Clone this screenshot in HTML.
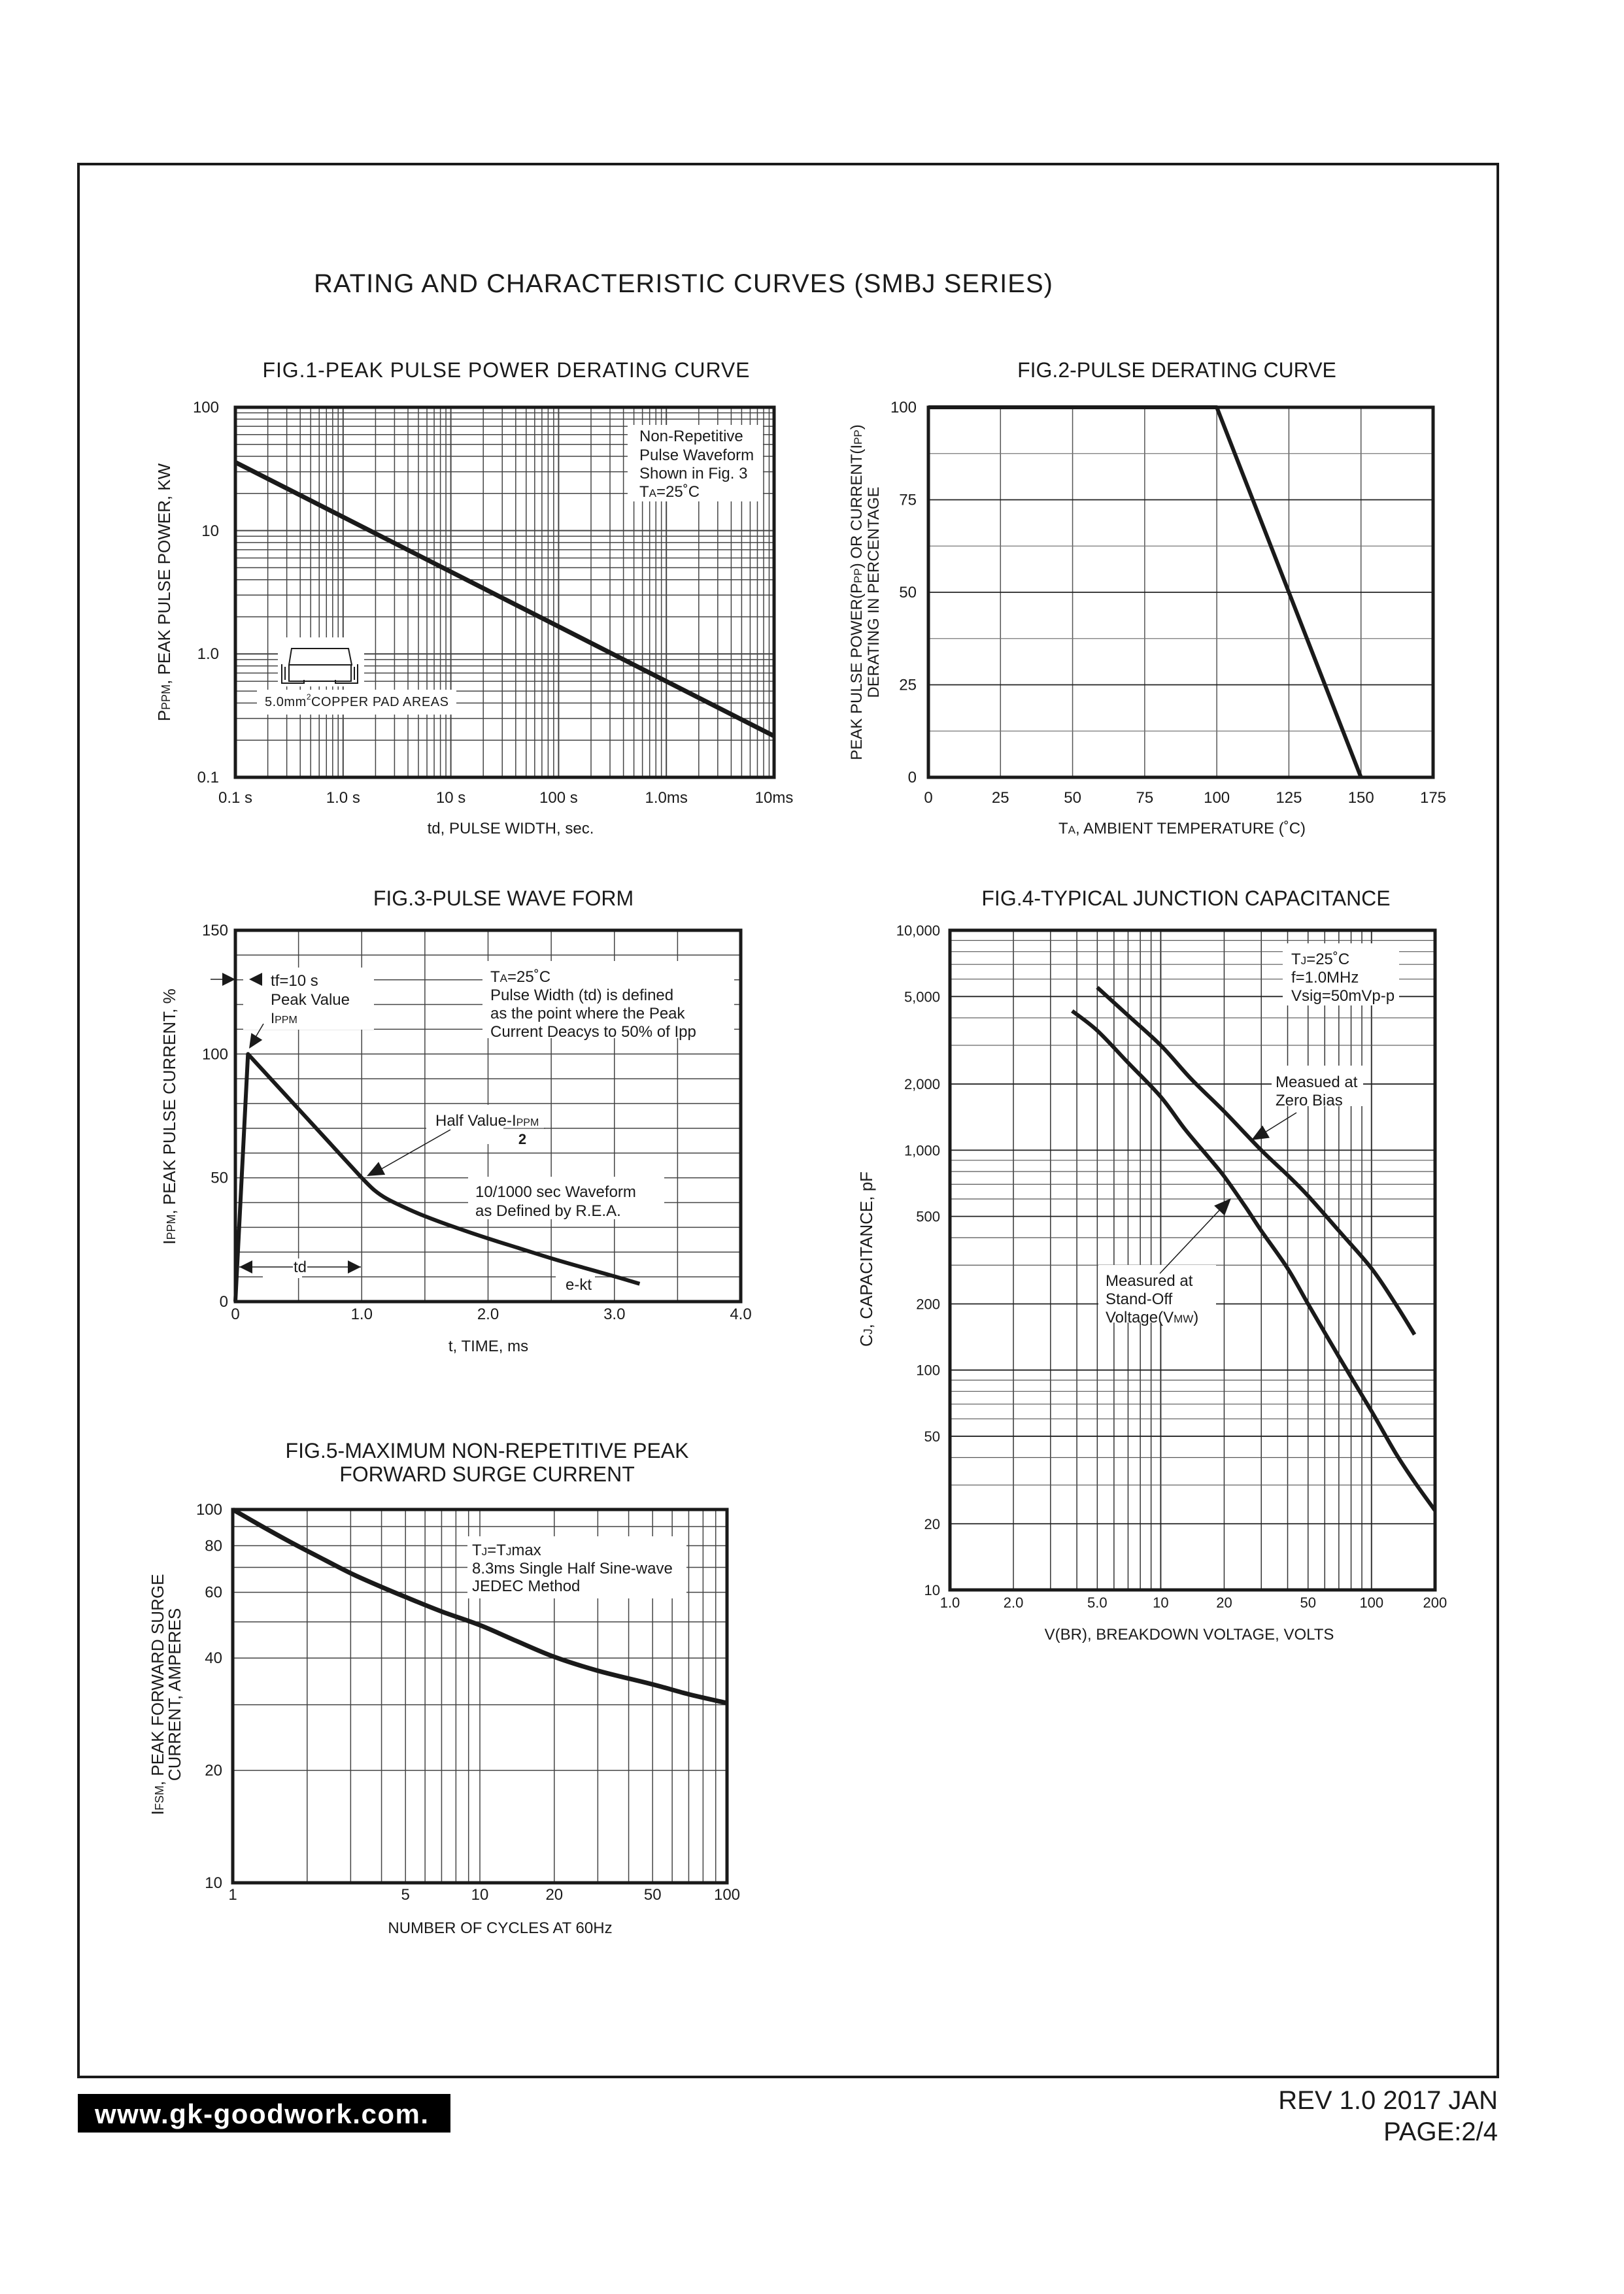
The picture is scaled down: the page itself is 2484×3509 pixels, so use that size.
<!DOCTYPE html>
<html><head><meta charset="utf-8">
<style>
html,body{margin:0;padding:0;background:#fff;}
svg{display:block;}
text{font-family:"Liberation Sans",Arial,sans-serif;fill:#1a1a1a;}
</style></head>
<body>
<svg id="s" width="2484" height="3509" viewBox="0 0 2484 3509" xmlns="http://www.w3.org/2000/svg">
<rect x="0" y="0" width="2484" height="3509" fill="#fff"/>
<rect x="120" y="251" width="2171" height="2926" fill="none" stroke="#1a1a1a" stroke-width="4"/>
<text x="480" y="447" font-size="40" textLength="1130">RATING AND CHARACTERISTIC CURVES (SMBJ SERIES)</text>

<text x="774" y="577" font-size="32" text-anchor="middle" textLength="745">FIG.1-PEAK PULSE POWER DERATING CURVE</text>
<text x="1800" y="577" font-size="32" text-anchor="middle">FIG.2-PULSE DERATING CURVE</text>
<text x="770" y="1385" font-size="32" text-anchor="middle">FIG.3-PULSE WAVE FORM</text>
<text x="1814" y="1385" font-size="32" text-anchor="middle">FIG.4-TYPICAL JUNCTION CAPACITANCE</text>
<text x="745" y="2230" font-size="32" text-anchor="middle">FIG.5-MAXIMUM NON-REPETITIVE PEAK</text>
<text x="745" y="2266" font-size="32" text-anchor="middle">FORWARD SURGE CURRENT</text>

<g id="grid"></g>
<g id="fg"></g>

<!-- footer -->
<rect x="119" y="3203" width="570" height="59" fill="#000"/>
<text x="145" y="3248" font-size="42" font-weight="bold" style="fill:#fff" textLength="510">www.gk-goodwork.com.</text>
<text x="2291" y="3226" font-size="40" text-anchor="end">REV 1.0 2017 JAN</text>
<text x="2291" y="3274" font-size="40" text-anchor="end">PAGE:2/4</text>
</svg>
<script>
var NS="http://www.w3.org/2000/svg";
var G=document.getElementById('grid'),F=document.getElementById('fg');
function el(p,tag,a,txt){var e=document.createElementNS(NS,tag);for(var k in a)e.setAttribute(k,a[k]);if(txt!==undefined)e.textContent=txt;p.appendChild(e);return e;}
function ln(x1,y1,x2,y2,w,c){el(G,'line',{x1:x1,y1:y1,x2:x2,y2:y2,'stroke-width':w||1.5,stroke:c||'#444'});}
function tx(x,y,s,sz,anc,extra){var a={x:x,y:y,'font-size':sz||24};if(anc)a['text-anchor']=anc;for(var k in extra)a[k]=extra[k];return el(F,'text',a,s);}
function rect(x,y,w,h){el(F,'rect',{x:x,y:y,width:w,height:h,fill:'#fff'});}
function frame(x1,y1,x2,y2){el(F,'rect',{x:x1,y:y1,width:x2-x1,height:y2-y1,fill:'none',stroke:'#1a1a1a','stroke-width':5});}
function poly(pts,w){el(F,'polyline',{points:pts.map(function(p){return p[0].toFixed(1)+','+p[1].toFixed(1)}).join(' '),fill:'none',stroke:'#1a1a1a','stroke-width':w||6,'stroke-linejoin':'round'});}
function smooth(P,w){var d='M'+P[0][0].toFixed(1)+','+P[0][1].toFixed(1);
 for(var i=0;i<P.length-1;i++){var p0=P[i-1]||P[i],p1=P[i],p2=P[i+1],p3=P[i+2]||P[i+1];
  var c1x=p1[0]+(p2[0]-p0[0])/6,c1y=p1[1]+(p2[1]-p0[1])/6,c2x=p2[0]-(p3[0]-p1[0])/6,c2y=p2[1]-(p3[1]-p1[1])/6;
  d+=' C'+c1x.toFixed(1)+','+c1y.toFixed(1)+' '+c2x.toFixed(1)+','+c2y.toFixed(1)+' '+p2[0].toFixed(1)+','+p2[1].toFixed(1);}
 el(F,'path',{d:d,fill:'none',stroke:'#1a1a1a','stroke-width':w||6,'stroke-linejoin':'round'});}
function tri(tx_,ty,fx,fy,L,W){var dx=tx_-fx,dy=ty-fy,d=Math.sqrt(dx*dx+dy*dy);dx/=d;dy/=d;L=L||26;W=W||11;var bx=tx_-dx*L,by=ty-dy*L;
 el(F,'polygon',{points:tx_+','+ty+' '+(bx-dy*W)+','+(by+dx*W)+' '+(bx+dy*W)+','+(by-dx*W),fill:'#1a1a1a'});}
function fl(x1,y1,x2,y2,w){el(F,'line',{x1:x1,y1:y1,x2:x2,y2:y2,stroke:'#1a1a1a','stroke-width':w||1.5});}
var L10=Math.log10;

/* FIG1 */
(function(){var X0=360,X1=1184,Y0=623,Y1=1189;
 function x(t){return X0+164.8*(L10(t)+1);} function y(p){return Y1-188.7*(L10(p)+1);}
 for(var d=0.1;d<10000;d*=10)for(var m=1;m<=9;m++){var xx=x(d*m);ln(xx,Y0,xx,Y1,m==1?2:1.5);}
 for(var d=0.1;d<100;d*=10)for(var m=1;m<=9;m++){var yy=y(d*m);ln(X0,yy,X1,yy,m==1?2:1.5);}
 rect(960,650,207,117);
 rect(425,975,132,75);rect(393,1055,305,38);
 poly([[x(0.1),y(35.8)],[x(10000),y(0.216)]],7);
 frame(X0,Y0,X1,Y1);
 [['100',623],['10',812],['1.0',1000],['0.1',1189]].forEach(function(a){tx(335,a[1]+8,a[0],24,'end');});
 var xl=['0.1  s','1.0  s','10  s','100  s','1.0ms','10ms'];
 for(var i=0;i<6;i++)tx(X0+164.8*i,1228,xl[i],24,'middle');
 tx(781,1275,'td, PULSE WIDTH, sec.',24,'middle');
 var t=tx(0,0,'',26,null,{transform:'translate(260,906) rotate(-90)','text-anchor':'middle'});
 t.innerHTML='P<tspan font-size="18">PPM</tspan>, PEAK PULSE POWER, KW';
 tx(978,675,'Non-Repetitive',24);tx(978,704,'Pulse Waveform',24);tx(978,732,'Shown in Fig. 3',24);
 var t2=tx(978,760,'',24);t2.innerHTML='T<tspan font-size="17">A</tspan>=25˚C';
 el(F,'path',{d:'M446,992 L533,992 L538,1017 L442,1017 Z M442,1017 L442,1042 L537,1042 L537,1017 M431,1016 L431,1045 L465,1045 L465,1040 M547,1016 L547,1045 L513,1045 L513,1040 M436,1020 L436,1040 M542,1020 L542,1040',fill:'none',stroke:'#1a1a1a','stroke-width':2});
 var t3=tx(405,1080,'',20,null,{textLength:281});t3.innerHTML='5.0mm<tspan font-size="12" dy="-10">2</tspan><tspan dy="10">COPPER PAD AREAS</tspan>';
})();

/* FIG2 */
(function(){var X0=1420,X1=2192,Y0=623,Y1=1189;var dx=(X1-X0)/7,dy=(Y1-Y0)/8;
 for(var i=1;i<7;i++)ln(X0+dx*i,Y0,X0+dx*i,Y1,1.5,'#555');
 for(var j=1;j<8;j++)ln(X0,Y0+dy*j,X1,Y0+dy*j,j%2==0?1.8:1.2,j%2==0?'#222':'#777');
 poly([[X0,Y0],[X0+dx*4,Y0],[X0+dx*6,Y1]],6);
 frame(X0,Y0,X1,Y1);
 ['100','75','50','25','0'].forEach(function(s,i){tx(1402,Y0+dy*2*i+8,s,24,'end');});
 for(var i=0;i<8;i++)tx(X0+dx*i,1228,String(i*25),24,'middle');
 var t=tx(1808,1275,'',24,'middle');t.innerHTML='T<tspan font-size="17">A</tspan>, AMBIENT TEMPERATURE (˚C)';
 var a=tx(0,0,'',24,null,{transform:'translate(1318,906) rotate(-90)','text-anchor':'middle'});
 a.innerHTML='PEAK PULSE POWER(P<tspan font-size="17">PP</tspan>) OR CURRENT(I<tspan font-size="17">PP</tspan>)';
 tx(0,0,'DERATING IN PERCENTAGE',24,null,{transform:'translate(1344,906) rotate(-90)','text-anchor':'middle'});
})();

/* FIG3 */
(function(){var X0=360,X1=1133,Y0=1423,Y1=1991;function x(t){return X0+193.25*t;}function y(v){return Y1-3.787*v;}
 for(var i=1;i<8;i++)ln(x(i*0.5),Y0,x(i*0.5),Y1,1.5,'#444');
 for(var j=1;j<15;j++)ln(X0,y(j*10),X1,y(j*10),1.5,'#444');
 rect(372,1480,200,95);rect(738,1470,385,118);rect(652,1690,180,60);rect(716,1800,300,65);rect(402,1925,60,30);rect(850,1945,60,30);
 poly([[x(0),y(0)],[x(0.1),y(100)],[x(1.0),y(50)]],6);
 smooth([[x(1.0),y(50)],[x(1.1),y(45)],[x(1.2),y(41.5)],[x(1.35),y(37.8)],[x(1.5),y(34.5)],[x(1.75),y(29.8)],[x(2.0),y(25.5)],[x(2.25),y(21.5)],[x(2.5),y(17.5)],[x(2.75),y(13.8)],[x(3.0),y(10.2)],[x(3.2),y(7.2)]],6);
 frame(X0,Y0,X1,Y1);
 [['150',150],['100',100],['50',50],['0',0]].forEach(function(a){tx(349,y(a[1])+8,a[0],24,'end');});
 ['0','1.0','2.0','3.0','4.0'].forEach(function(s,i){tx(x(i),2018,s,24,'middle');});
 tx(747,2067,'t, TIME, ms',24,'middle');
 var a=tx(0,0,'',26,null,{transform:'translate(268,1708) rotate(-90)','text-anchor':'middle'});
 a.innerHTML='I<tspan font-size="18">PPM</tspan>, PEAK PULSE CURRENT, %';
 fl(322,1498,360,1498);tri(360,1498,330,1498,20,10);tri(381,1498,410,1498,20,10);
 tx(414,1508,'tf=10  s',24);tx(414,1537,'Peak Value',24);
 var p=tx(414,1565,'',22);p.innerHTML='I<tspan font-size="16">PPM</tspan>';
 fl(403,1566,390,1588);tri(381,1604,395,1582,22,10);
 var t=tx(750,1502,'',24);t.innerHTML='T<tspan font-size="17">A</tspan>=25˚C';
 tx(750,1530,'Pulse Width (td) is defined',24);tx(750,1558,'as the point where the Peak',24);tx(750,1586,'Current Deacys to 50% of Ipp',24);
 var h=tx(666,1722,'',24);h.innerHTML='Half Value-I<tspan font-size="16">PPM</tspan>';
 fl(770,1726,834,1726,1);
 tx(799,1750,'2',22,'middle',{'font-weight':'bold'});
 fl(689,1728,580,1790);tri(561,1799,592,1783,26,11);
 tx(727,1831,'10/1000  sec Waveform',24);tx(727,1860,'as Defined by R.E.A.',24);
 fl(366,1938,448,1938);fl(470,1938,552,1938);tri(366,1938,395,1938,20,10);tri(552,1938,525,1938,20,10);
 tx(459,1946,'td',24,'middle');
 tx(865,1973,'e-kt',24);
})();

/* FIG4 */
(function(){var X0=1453,X1=2195,Y0=1423,Y1=2432;function x(v){return X0+322.4*L10(v);}function y(c){return Y1-336.3*(L10(c)-1);}
 for(var d=1;d<=100;d*=10)for(var m=1;m<=9;m++){var v=d*m;if(v>200)break;var xx=x(v);ln(xx,Y0,xx,Y1,m==1?2:1.5,'#333');}
 ln(x(200),Y0,x(200),Y1,2,'#333');
 for(var d=10;d<10000;d*=10)for(var m=1;m<=9;m++){var yy=y(d*m);ln(X0,yy,X1,yy,m==1||m==2||m==5?1.8:1.2,m==1||m==2||m==5?'#222':'#555');}
 rect(1962,1443,178,95);rect(1945,1630,140,62);rect(1680,1935,180,88);
 function sm(arr){return arr.map(function(a){return [x(a[0]),y(a[1])];});}
 smooth(sm([[5,5500],[7,4100],[10,3000],[14,2100],[20,1500],[30,1000],[40,770],[50,620],[70,430],[100,290],[130,200],[160,145]]),6);
 smooth(sm([[3.8,4300],[5,3500],[7,2500],[10,1750],[13,1250],[17,920],[20,760],[25,560],[30,430],[40,290],[50,200],[70,115],[100,65],[130,42],[160,31],[200,23]]),6);
 frame(X0,Y0,X1,Y1);
 [['10,000',10000],['5,000',5000],['2,000',2000],['1,000',1000],['500',500],['200',200],['100',100],['50',50],['20',20],['10',10]].forEach(function(a){tx(1438,y(a[1])+8,a[0],22,'end');});
 [['1.0',1],['2.0',2],['5.0',5],['10',10],['20',20],['50',50],['100',100],['200',200]].forEach(function(a){tx(x(a[1]),2459,a[0],22,'middle');});
 tx(1819,2508,'V(BR), BREAKDOWN VOLTAGE, VOLTS',24,'middle');
 var a=tx(0,0,'',26,null,{transform:'translate(1334,1926) rotate(-90)','text-anchor':'middle'});
 a.innerHTML='C<tspan font-size="18">J</tspan>, CAPACITANCE, pF';
 var t=tx(1975,1475,'',24);t.innerHTML='T<tspan font-size="17">J</tspan>=25˚C';
 tx(1975,1503,'f=1.0MHz',24);tx(1975,1531,'Vsig=50mVp-p',24);
 tx(1951,1663,'Measued at',24);tx(1951,1691,'Zero Bias',24);
 fl(1983,1702,1930,1735);tri(1914,1744,1940,1729,26,11);
 tx(1691,1967,'Measured at',24);tx(1691,1995,'Stand-Off',24);
 var v=tx(1691,2023,'',24);v.innerHTML='Voltage(V<tspan font-size="17">MW</tspan>)';
 fl(1774,1948,1870,1846);tri(1883,1833,1862,1855,26,11);
})();

/* FIG5 */
(function(){var X0=356,X1=1112,Y0=2309,Y1=2880;function x(n){return X0+378*L10(n);}function y(a){return Y1-571*(L10(a)-1);}
 for(var d=1;d<=10;d*=10)for(var m=1;m<=9;m++){var xx=x(d*m);ln(xx,Y0,xx,Y1,1.5,'#444');}
 for(var m=1;m<=10;m++){var yy=y(10*m);ln(X0,yy,X1,yy,1.5,'#444');}
 rect(715,2350,335,95);
 smooth([[1,100],[1.3,90.5],[1.7,82],[2.2,75],[3,67.5],[4,62],[5,58.3],[7,53.3],[10,49],[14,44.5],[20,40.3],[30,37],[50,34],[70,32],[100,30.3]].map(function(a){return [x(a[0]),y(a[1])];}),7);
 frame(X0,Y0,X1,Y1);
 [100,80,60,40,20,10].forEach(function(v){tx(340,y(v)+8,String(v),24,'end');});
 [1,5,10,20,50,100].forEach(function(v){tx(x(v),2906,String(v),24,'middle');});
 tx(765,2957,'NUMBER OF CYCLES AT 60Hz',24,'middle');
 var a=tx(0,0,'',26,null,{transform:'translate(250,2592) rotate(-90)','text-anchor':'middle'});
 a.innerHTML='I<tspan font-size="18">FSM</tspan>, PEAK FORWARD SURGE';
 tx(0,0,'CURRENT, AMPERES',26,null,{transform:'translate(276,2592) rotate(-90)','text-anchor':'middle'});
 var t=tx(722,2379,'',24);t.innerHTML='T<tspan font-size="17">J</tspan>=T<tspan font-size="17">J</tspan>max';
 tx(722,2407,'8.3ms Single Half Sine-wave',24);tx(722,2434,'JEDEC Method',24);
})();
</script>
</body></html>
